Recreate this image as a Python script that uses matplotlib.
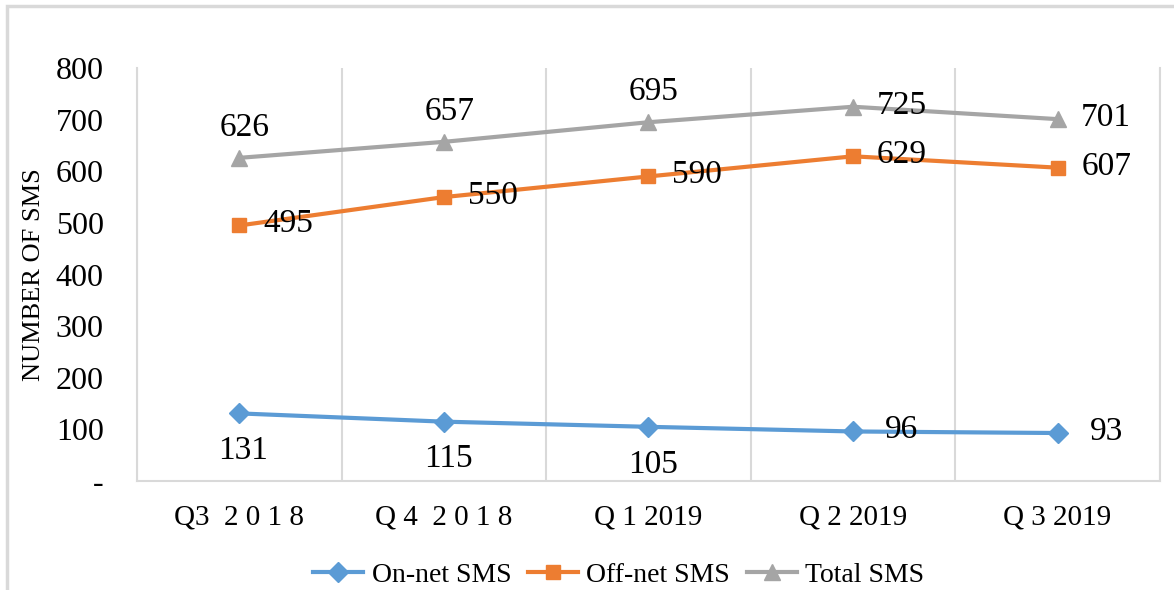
import matplotlib

matplotlib.use("Agg")
import matplotlib.pyplot as plt
from matplotlib.patches import Rectangle
from matplotlib.ticker import FixedLocator

quarters = ["Q3  2 0 1 8", "Q 4  2 0 1 8", "Q 1 2019", "Q 2 2019", "Q 3 2019"]
on_net = [131, 115, 105, 96, 93]
off_net = [495, 550, 590, 629, 607]
total = [626, 657, 695, 725, 701]
yticks = [0, 100, 200, 300, 400, 500, 600, 700, 800]
ytick_labels = ["-", "100", "200", "300", "400", "500", "600", "700", "800"]

# where each data label sits relative to its point
on_pos = ["below", "below", "below", "right", "right"]
off_pos = ["right"] * 5
tot_pos = ["above", "above", "above", "right", "right"]

BLUE, ORANGE, GREY = "#5B9BD5", "#ED7D31", "#A5A5A5"
GRID = "#D9D9D9"

plt.rcParams["font.family"] = ["Liberation Serif", "DejaVu Serif"]

fig = plt.figure(figsize=(11.74, 5.9), dpi=100)
ax = fig.add_axes([0.1167, 0.1847, 0.8713, 0.70])

# outer chart frame (left and top edges visible)
fig.patches.append(Rectangle((7 / 1174, -0.1), 1.2, 0.1 + (590 - 6) / 590,
                             transform=fig.transFigure, fill=False,
                             edgecolor=GRID, linewidth=2.5))

x = range(len(quarters))
ax.plot(x, on_net, color=BLUE, lw=3, marker="D", ms=10, label="On-net SMS")
ax.plot(x, off_net, color=ORANGE, lw=3, marker="s", ms=10, label="Off-net SMS")
ax.plot(x, total, color=GREY, lw=3, marker="^", ms=12, label="Total SMS")

offsets = {"below": (3, -27), "above": (4, 22), "right": (35, 1)}
for vals, where in ((on_net, on_pos), (off_net, off_pos), (total, tot_pos)):
    for i, (v, w) in enumerate(zip(vals, where)):
        ax.annotate(str(v), (i, v), xytext=offsets[w], textcoords="offset points",
                    ha="center", va="center", fontsize=24)

ax.set_xlim(-0.5, 4.5)
ax.set_ylim(0, 800)
ax.set_xticks(list(x))
ax.set_xticklabels(quarters, fontsize=21)
ax.set_yticks(yticks)
ax.set_yticklabels(ytick_labels, fontsize=23)
ax.xaxis.set_minor_locator(FixedLocator([-0.5, 0.5, 1.5, 2.5, 3.5, 4.5]))
ax.grid(which="minor", axis="x", color=GRID, lw=1.5)
ax.tick_params(which="both", length=0)
ax.tick_params(axis="y", pad=24)
ax.tick_params(axis="x", pad=17)
ax.set_ylabel("NUMBER OF SMS", fontsize=19, labelpad=8)

for side in ("left", "right", "bottom"):
    ax.spines[side].set_color(GRID)
    ax.spines[side].set_linewidth(1.5)
ax.spines["top"].set_visible(False)

ax.legend(loc="center", bbox_to_anchor=(0.471, -0.228), ncol=3, frameon=False,
          fontsize=20, handlelength=1.8, handletextpad=0.3, columnspacing=0.6)

fig.savefig("out.png", dpi=100)
